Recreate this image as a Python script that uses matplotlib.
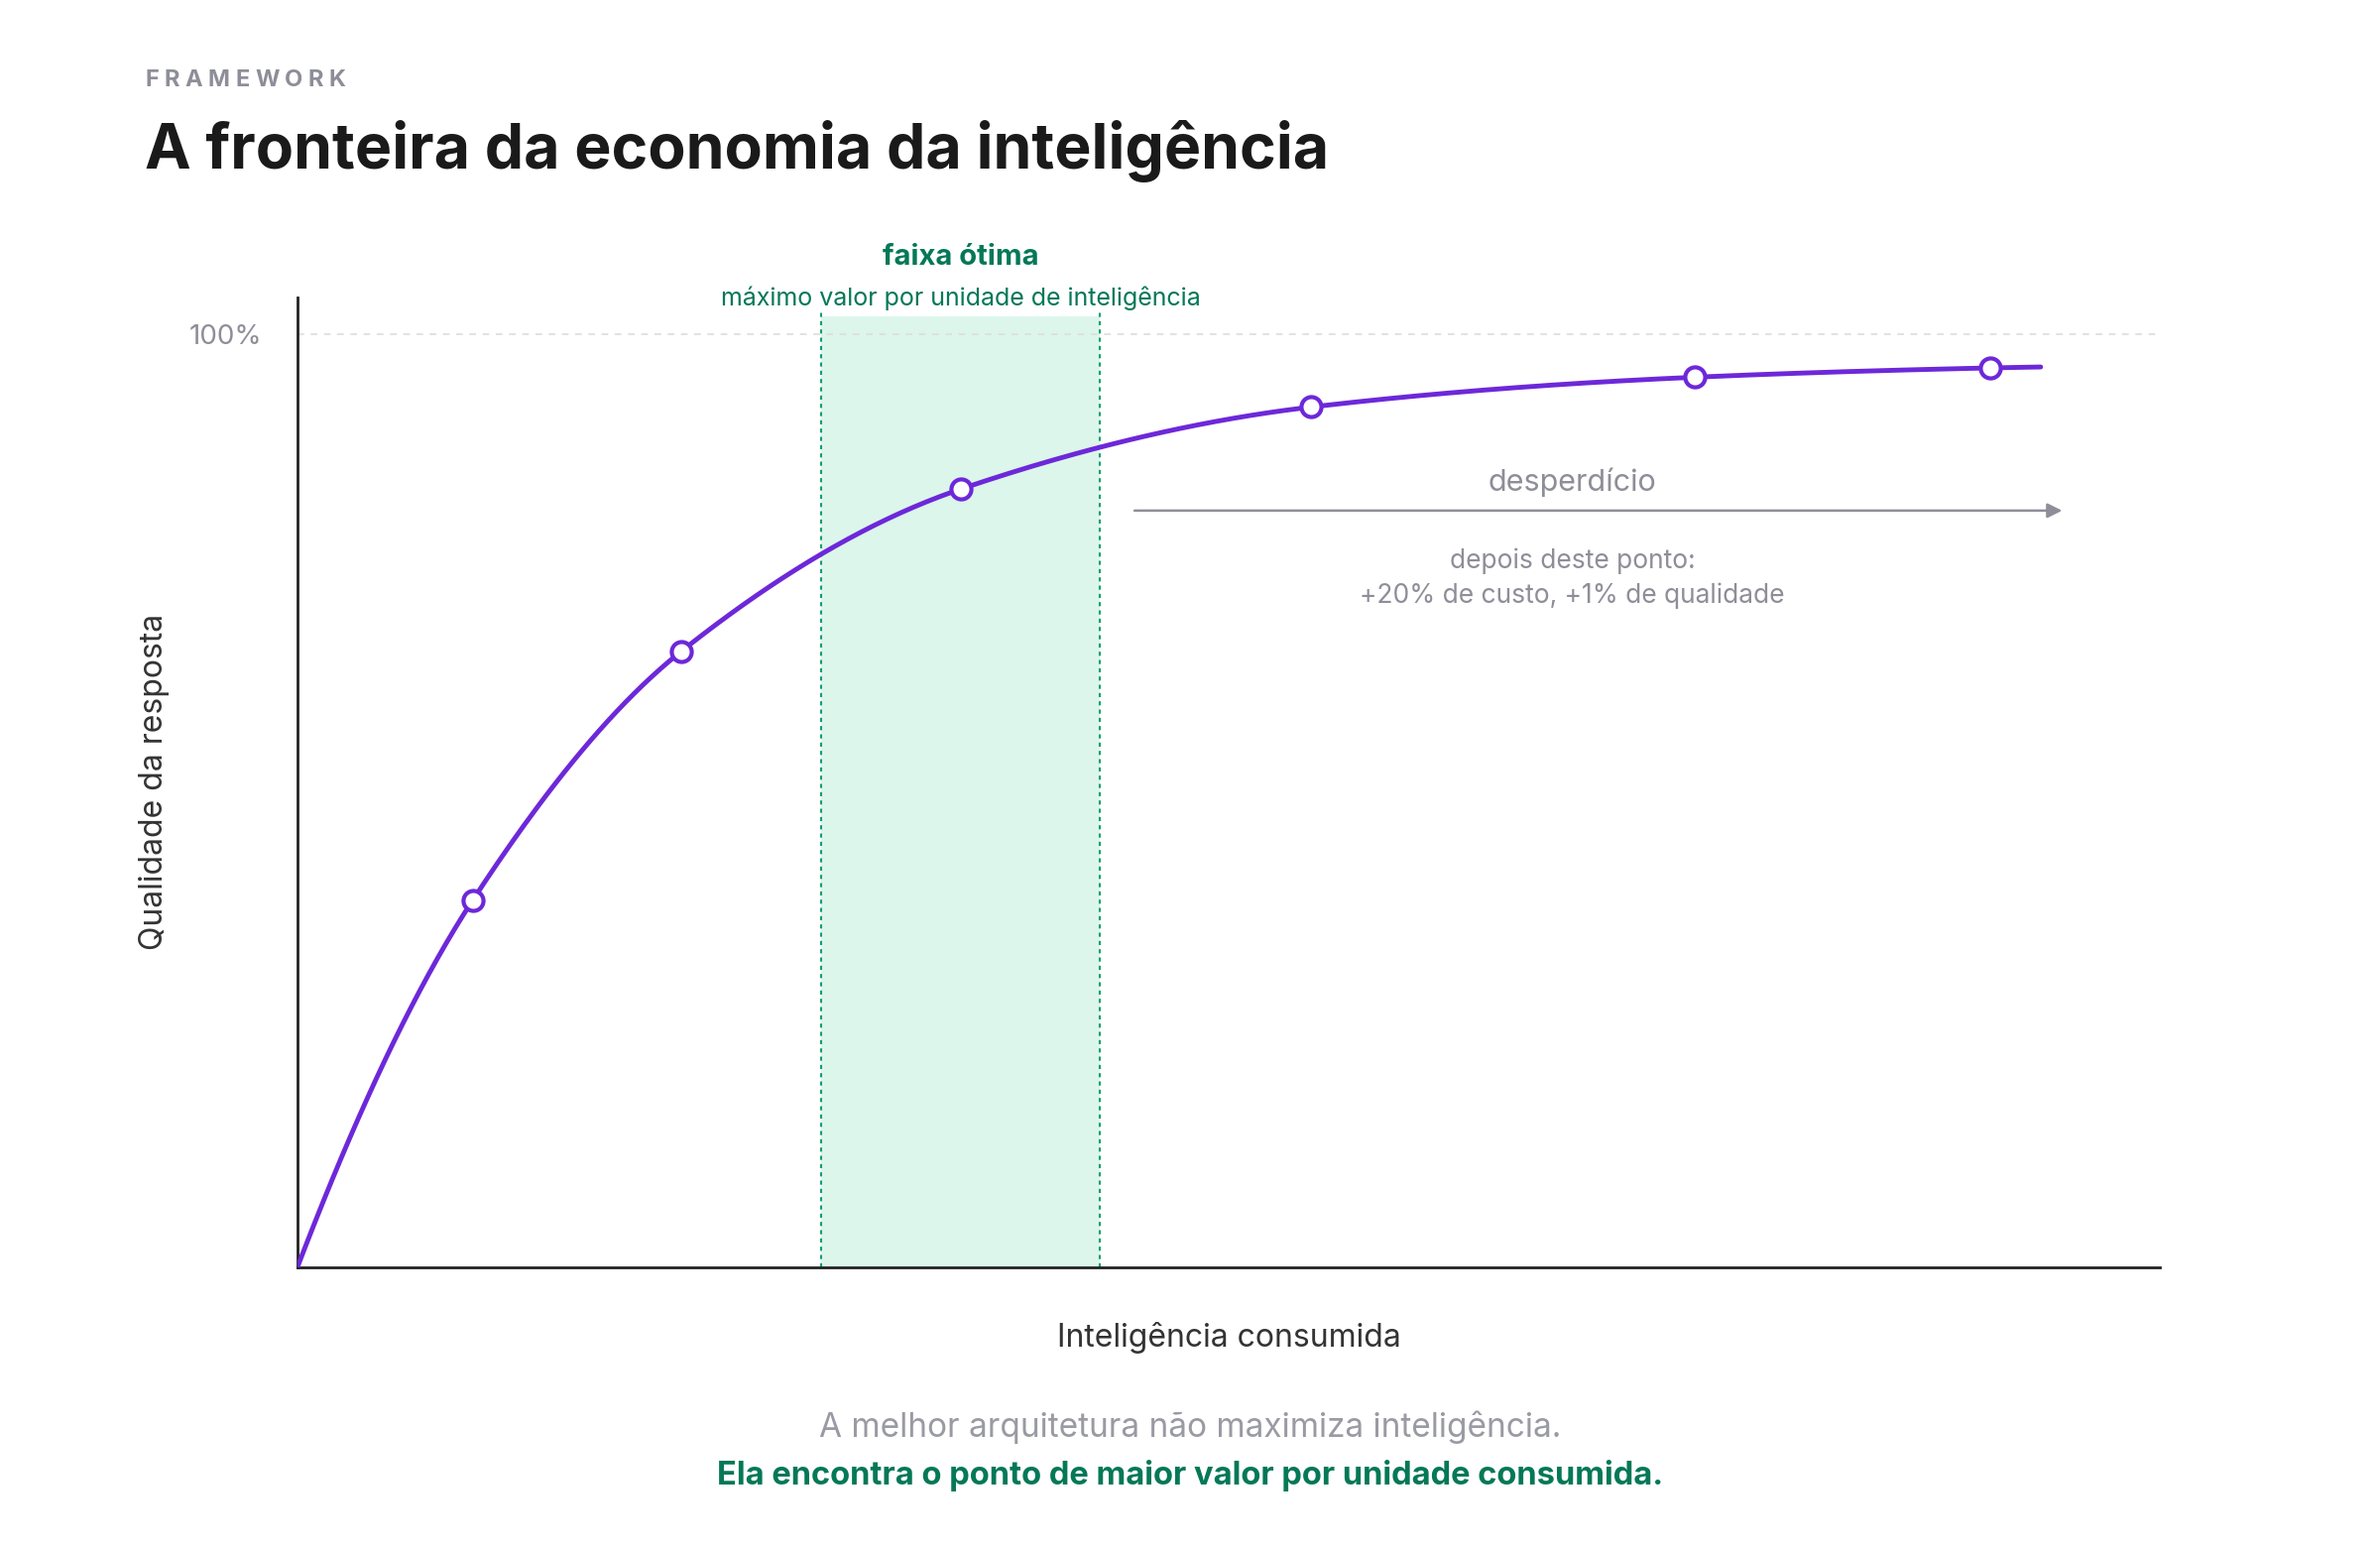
import numpy as np
import matplotlib
matplotlib.use("Agg")
import matplotlib.pyplot as plt

plt.rcParams['font.family'] = ['Inter', 'DejaVu Sans']

# data
curve_x = [0, 9.4, 20.6, 35.6, 54.4, 75.0, 90.9, 93.6]
curve_y = [0, 0.393, 0.660, 0.834, 0.922, 0.954, 0.964, 0.965]
marker_x = [9.4, 20.6, 35.6, 54.4, 75.0, 90.9]
marker_y = [0.393, 0.660, 0.834, 0.922, 0.954, 0.964]
band = [28.1, 43.1]
waste_arrow = [44.8, 94.9]

PURPLE = '#6d28d9'
GREEN = '#047857'
GRAY = '#8e8e99'

def pchip(x, y, n=400):
    x = np.asarray(x, float); y = np.asarray(y, float)
    h = np.diff(x); d = np.diff(y) / h
    m = np.zeros_like(x)
    for k in range(1, len(x) - 1):
        if d[k-1] * d[k] > 0:
            w1 = 2*h[k] + h[k-1]; w2 = h[k] + 2*h[k-1]
            m[k] = (w1 + w2) / (w1/d[k-1] + w2/d[k])
    m[0] = d[0] * 1.25; m[-1] = d[-1]
    xs = np.linspace(x[0], x[-1], n); ys = np.empty_like(xs)
    for i, xv in enumerate(xs):
        k = min(np.searchsorted(x, xv, side='right') - 1, len(x) - 2)
        t = (xv - x[k]) / h[k]
        h00 = 2*t**3 - 3*t**2 + 1; h10 = t**3 - 2*t**2 + t
        h01 = -2*t**3 + 3*t**2; h11 = t**3 - t**2
        ys[i] = h00*y[k] + h10*h[k]*m[k] + h01*y[k+1] + h11*h[k]*m[k+1]
    return xs, ys

fig = plt.figure(figsize=(24, 15.6), dpi=100)
ax = fig.add_axes([0.125, 0.181, 0.7825, 0.627])
ax.set_xlim(0, 100)
ax.set_ylim(0, 1.04)

ax.axvspan(band[0], band[1], ymax=0.98, color='#dcf6eb', zorder=0, lw=0)
for b in band:
    ax.plot([b, b], [0, 1.026], color='#10a070', ls=(0, (2, 2)), lw=1.5, zorder=1, clip_on=False)
ax.axhline(1.0, color='#dddddd', ls=(0, (4, 4)), lw=1.2, zorder=0)

xs, ys = pchip(curve_x, curve_y)
ax.plot(xs, ys, color=PURPLE, lw=3.5, zorder=3, solid_capstyle='round')
ax.scatter(marker_x, marker_y, s=210, facecolor='white', edgecolor=PURPLE, linewidth=3, zorder=4)

ax.annotate('', xy=(waste_arrow[1], 0.811), xytext=(waste_arrow[0], 0.811),
            arrowprops=dict(arrowstyle='-|>', color=GRAY, lw=1.8, mutation_scale=22))
mid = (waste_arrow[0] + waste_arrow[1]) / 2 - 1.4
ax.text(mid, 0.826, 'desperdício', ha='center', va='bottom', fontsize=22, color=GRAY)
ax.text(mid, 0.757, 'depois deste ponto:', ha='center', va='center', fontsize=19, color=GRAY)
ax.text(mid, 0.720, '+20% de custo, +1% de qualidade', ha='center', va='center', fontsize=19, color=GRAY)

bc = sum(band) / 2
ax.text(bc, 1.083, 'faixa ótima', ha='center', va='center', fontsize=21, color=GREEN, fontweight='bold', clip_on=False)
ax.text(bc, 1.039, 'máximo valor por unidade de inteligência', ha='center', va='center', fontsize=18, color=GREEN, clip_on=False)

for s in ['top', 'right']:
    ax.spines[s].set_visible(False)
for s in ['left', 'bottom']:
    ax.spines[s].set_color('#222222'); ax.spines[s].set_linewidth(2)
ax.set_xticks([])
ax.set_yticks([1.0]); ax.set_yticklabels(['100%'], fontsize=20, color=GRAY)
ax.tick_params(axis='y', length=0, pad=26)
ax.set_ylabel('Qualidade da resposta', fontsize=23, color='#333333', labelpad=14)
ax.set_xlabel('Inteligência consumida', fontsize=23, color='#333333', labelpad=40)

# letter-spaced kicker
renderer = fig.canvas.get_renderer()
xpos = 0.061 * 2400
for ch in 'FRAMEWORK':
    t = fig.text(xpos / 2400, 0.948, ch, fontsize=17, fontweight='bold', color=GRAY, va='center')
    w = t.get_window_extent(renderer).width
    xpos += w + 5.5

fig.text(0.061, 0.902, 'A fronteira da economia da inteligência', fontsize=45, fontweight='bold', color='#1a1a1a', va='center')
fig.text(0.5, 0.0775, 'A melhor arquitetura não maximiza inteligência.', fontsize=24, color='#9a9aa4', ha='center', va='center')
fig.text(0.5, 0.046, 'Ela encontra o ponto de maior valor por unidade consumida.', fontsize=23.5, color=GREEN, fontweight='bold', ha='center', va='center')

fig.savefig('out.png', dpi=100, facecolor='white')
